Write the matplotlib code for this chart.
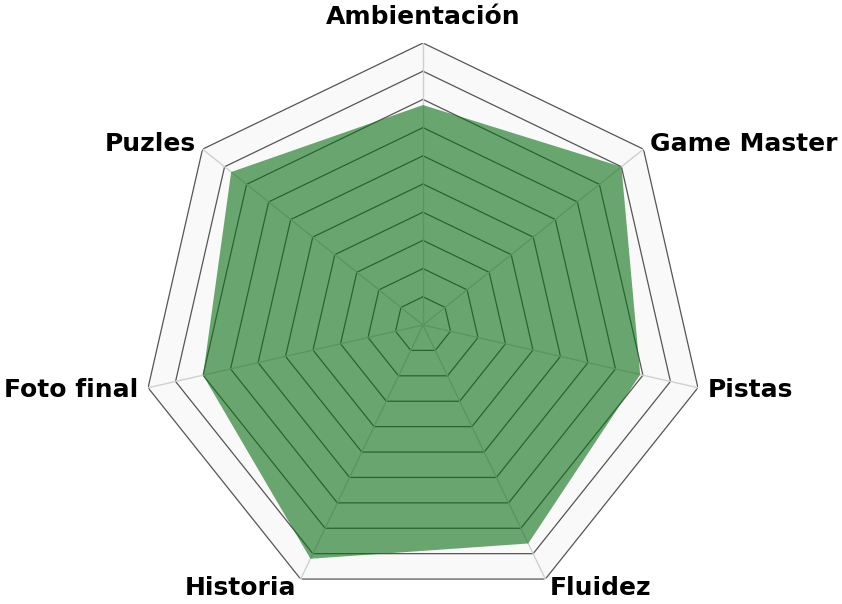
import numpy as np
import matplotlib
matplotlib.use("Agg")
import matplotlib.pyplot as plt

categories = ["Ambientación", "Game Master", "Pistas", "Fluidez", "Historia", "Foto final", "Puzles"]
values = [7.8, 9.0, 7.9, 8.6, 9.2, 8.0, 8.7]
max_value = 10
ring_levels = list(range(1, 11))

n = len(categories)
angles = np.linspace(0, 2 * np.pi, n, endpoint=False)

fig = plt.figure(figsize=(8.42, 6.04), dpi=100)
ax = fig.add_axes([(423 - 282) / 842, (279 - 282) / 604, 564 / 842, 564 / 604], projection="polar")
ax.set_theta_offset(np.pi / 2)
ax.set_theta_direction(-1)
ax.set_ylim(0, max_value)
ax.grid(False)
ax.spines["polar"].set_visible(False)
ax.set_xticks([])
ax.set_yticks([])
ax.patch.set_alpha(0)

closed = np.concatenate([angles, angles[:1]])

# background
ax.fill(closed, [max_value] * (n + 1), color="#f9f9f9", zorder=0, lw=0)

# rings
for lv in ring_levels:
    ax.plot(closed, [lv] * (n + 1), color="#555555", lw=0.9, zorder=1)

# spokes
for a in angles:
    ax.plot([a, a], [0, max_value], color="#d0d0d0", lw=1.0, zorder=1)

# data
vals = list(values) + [values[0]]
ax.fill(closed, vals, color=(0.04, 0.44, 0.08), alpha=0.6, lw=0, zorder=2)

# labels
for a, cat in zip(angles, categories):
    deg = np.degrees(a) % 360
    if deg < 1:
        ha, va, r = "center", "bottom", 10.5
    elif deg < 180:
        ha, va, r = "left", "center", 10.3
    else:
        ha, va, r = "right", "center", 10.3
    if 100 < deg < 260:
        r = 10.35
    ax.text(a, r, cat, ha=ha, va=va, fontsize=18, fontweight="bold",
            family="DejaVu Sans", color="black", zorder=5)

fig.savefig("out.png", dpi=100)
